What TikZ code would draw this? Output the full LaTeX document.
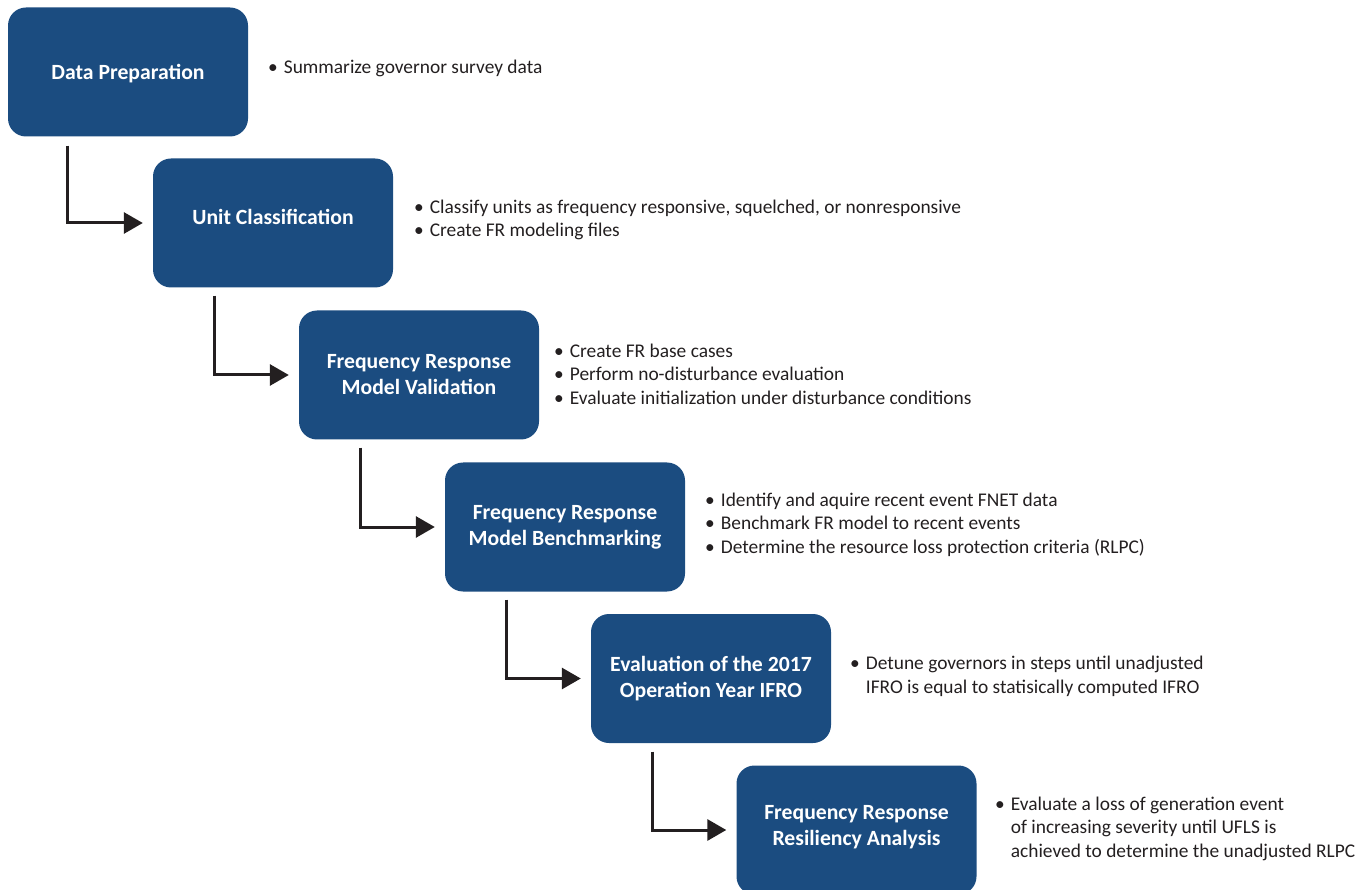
\documentclass[tikz,border=0pt]{standalone}
\usepackage{fontspec}
\setmainfont{Carlito}
\usetikzlibrary{arrows.meta}
\definecolor{boxblue}{HTML}{1B4C80}
\definecolor{ink}{HTML}{231F20}
\newcommand{\txtshift}[2]{\raisebox{#1}[\height][\depth]{#2}}
\begin{document}
\begin{tikzpicture}[x=1pt,y=-1pt,
  box/.style={fill=boxblue, rounded corners=18pt, minimum width=240pt, minimum height=129pt,
    text=white, font=\fontsize{21.7}{26}\selectfont\bfseries, align=center, inner sep=0pt},
  arr/.style={draw=ink, line width=3pt, -{Triangle[length=19pt,width=21pt]}},
  note/.style={anchor=west, text=ink, font=\fontsize{19.4}{23.5}\selectfont, inner sep=0pt}]
\useasboundingbox (0,0) rectangle (1366,890);
\begin{scope}
\clip (0,0) rectangle (1366,890);
\node[box] (b1) at (128,72) {\txtshift{-2pt}{Data Preparation}};
\node[box] (b2) at (273,223) {\txtshift{6pt}{Unit Classification}};
\node[box] (b3) at (419,375) {Frequency Response\\Model Validation};
\node[box] (b4) at (565,527) {Frequency Response\\Model Benchmarking};
\node[box] (b5) at (711,678.5) {Evaluation of the 2017\\Operation Year IFRO};
\node[box] (b6) at (856.5,830) {\txtshift{3pt}{\begin{tabular}{@{}c@{}}Frequency Response\\Resiliency Analysis\end{tabular}}};
\end{scope}
\node[note] (n1) at (268,69) {\begin{tabular}{@{}l@{\hspace{6pt}}l@{}}\textbullet & Summarize governor survey data\end{tabular}};
\node[note] (n2) at (414,220.5) {\begin{tabular}{@{}l@{\hspace{6pt}}l@{}}\textbullet & Classify units as frequency responsive, squelched, or nonresponsive\\ \textbullet & Create FR modeling files\end{tabular}};
\node[note] (n3) at (554,376) {\begin{tabular}{@{}l@{\hspace{6pt}}l@{}}\textbullet & Create FR base cases\\ \textbullet & Perform no-disturbance evaluation\\ \textbullet & Evaluate initialization under disturbance conditions\end{tabular}};
\node[note] (n4) at (705,525) {\begin{tabular}{@{}l@{\hspace{6pt}}l@{}}\textbullet & Identify and aquire recent event FNET data\\ \textbullet & Benchmark FR model to recent events\\ \textbullet & Determine the resource loss protection criteria (RLPC)\end{tabular}};
\node[note] (n5) at (850,677) {\begin{tabular}{@{}l@{\hspace{6pt}}l@{}}\textbullet & Detune governors in steps until unadjusted\\ & IFRO is equal to statisically computed IFRO\end{tabular}};
\node[note] (n6) at (995,829) {\begin{tabular}{@{}l@{\hspace{6pt}}l@{}}\textbullet & Evaluate a loss of generation event\\ & of increasing severity until UFLS is\\ & achieved to determine the unadjusted RLPC\end{tabular}};
\draw[arr] ([xshift=60pt,yshift=-9pt]b1.south west) |- ([xshift=-10pt]b2.west);
\draw[arr] ([xshift=62pt,yshift=-8pt]b2.south west) |- ([xshift=-10pt]b3.west);
\draw[arr] ([xshift=62pt,yshift=-8pt]b3.south west) |- ([xshift=-10pt]b4.west);
\draw[arr] ([xshift=62pt,yshift=-8pt]b4.south west) |- ([xshift=-10pt]b5.west);
\draw[arr] ([xshift=62pt,yshift=-8.5pt]b5.south west) |- ([xshift=-10pt]b6.west);
\end{tikzpicture}
\end{document}
